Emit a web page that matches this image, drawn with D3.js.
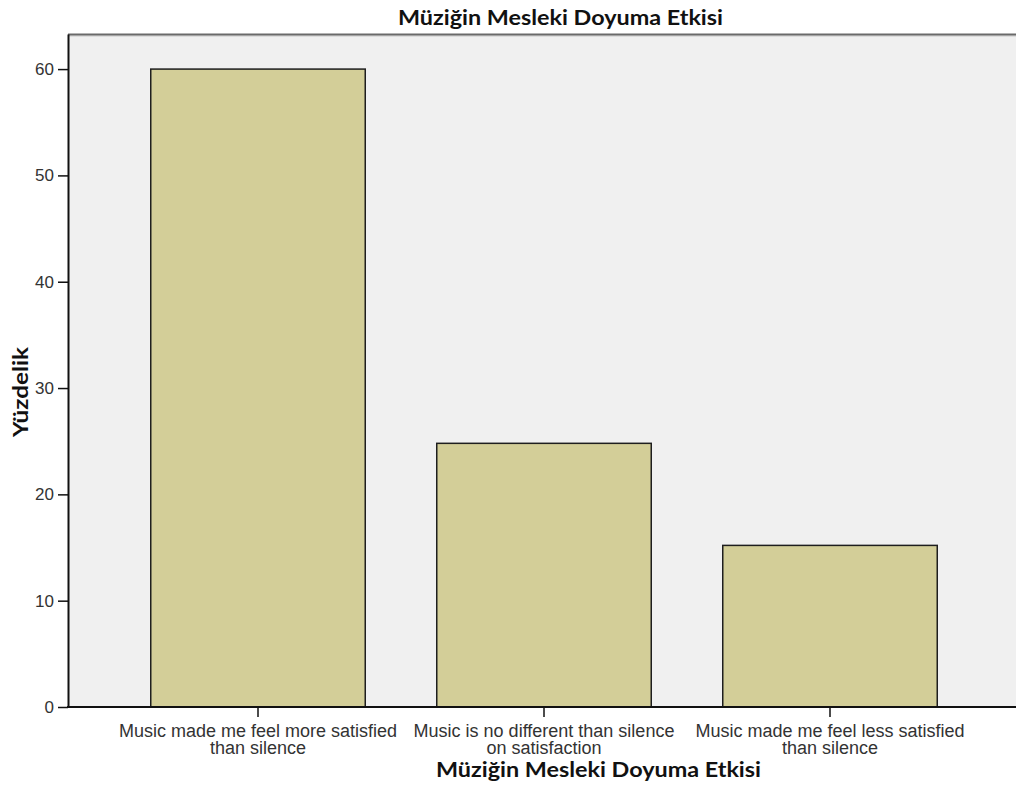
<!DOCTYPE html>
<html>
<head>
<meta charset="utf-8">
<script src="https://cdn.jsdelivr.net/npm/d3@7"></script>
<style>
  body { margin: 0; background: #fff; }
  svg { display: block; }
</style>
</head>
<body>
<script>
// chart data
const categories = [
  "Music made me feel more satisfied|than silence",
  "Music is no different than silence|on satisfaction",
  "Music made me feel less satisfied|than silence"
];
const percents = [60.0, 24.8, 15.2];
const yTicks = [0, 10, 20, 30, 40, 50, 60];
const titleText = "Müziğin Mesleki Doyuma Etkisi";
const yLabel = "Yüzdelik";

window.onload = function() {
    let svg = d3.select("body").append("svg")
        .attr("width", 1016)
        .attr("height", 785);

    let plotLeft = 68, plotRight = 1016, plotTop = 34, plotBottom = 707;

    // plot background
    svg.append("rect")
        .attr("x", plotLeft)
        .attr("y", plotTop)
        .attr("width", plotRight - plotLeft)
        .attr("height", plotBottom - plotTop)
        .attr("fill", "#f0f0f0");

    // top border (grey with a soft shadow line under it)
    svg.append("line")
        .attr("x1", plotLeft).attr("x2", plotRight)
        .attr("y1", plotTop + 2).attr("y2", plotTop + 2)
        .attr("stroke", "#c8c8c8")
        .attr("stroke-width", 1);
    svg.append("line")
        .attr("x1", plotLeft).attr("x2", plotRight)
        .attr("y1", plotTop + 0.5).attr("y2", plotTop + 0.5)
        .attr("stroke", "#6a6a6a")
        .attr("stroke-width", 2);

    let xScale = d3.scaleBand()
        .domain(categories)
        .range([115, 973])
        .paddingInner(0.25)
        .paddingOuter(0.125);

    let yScale = d3.scaleLinear()
        .domain([0, 63.3])
        .range([plotBottom, plotTop]);

    // bars
    svg.selectAll(".bar")
        .data(categories)
        .enter()
        .append("rect")
        .attr("class", "bar")
        .attr("x", d => xScale(d))
        .attr("y", (d, i) => yScale(percents[i]))
        .attr("width", xScale.bandwidth())
        .attr("height", (d, i) => plotBottom - yScale(percents[i]))
        .attr("fill", "#d3ce98")
        .attr("stroke", "#1e1e1e")
        .attr("stroke-width", 1.5);

    // y axis
    let yAxis = d3.axisLeft(yScale)
        .tickValues(yTicks)
        .tickSize(10)
        .tickPadding(4)
        .tickSizeOuter(0);
    let gy = svg.append("g")
        .attr("transform", "translate(" + plotLeft + ",0)")
        .call(yAxis);
    gy.select(".domain").attr("stroke", "#111").attr("stroke-width", 2);
    gy.selectAll(".tick line").attr("stroke", "#111").attr("stroke-width", 1.5);
    gy.selectAll(".tick text")
        .attr("fill", "#333")
        .style("font-family", "'Liberation Sans', Arial, sans-serif")
        .style("font-size", "17px");

    // x axis
    let xAxis = d3.axisBottom(xScale)
        .tickSize(10)
        .tickSizeOuter(0)
        .tickFormat("");
    let gx = svg.append("g")
        .attr("transform", "translate(0," + plotBottom + ")")
        .call(xAxis);
    gx.select(".domain").remove();
    gx.selectAll(".tick line").attr("stroke", "#111").attr("stroke-width", 1.5);
    svg.append("line")
        .attr("x1", plotLeft - 1).attr("x2", plotRight)
        .attr("y1", plotBottom).attr("y2", plotBottom)
        .attr("stroke", "#111")
        .attr("stroke-width", 2);

    // two line category labels
    gx.selectAll(".tick").each(function(d) {
        let lines = d.split("|");
        let t = d3.select(this).append("text")
            .attr("fill", "#333")
            .attr("text-anchor", "middle")
            .style("font-family", "'Liberation Sans', Arial, sans-serif")
            .style("font-size", "18px");
        lines.forEach((ln, i) => {
            t.append("tspan")
                .attr("x", 0)
                .attr("y", 30 + i * 17)
                .text(ln);
        });
    });

    // title
    svg.append("text")
        .attr("x", 398)
        .attr("y", 25)
        .attr("textLength", 325)
        .attr("lengthAdjust", "spacingAndGlyphs")
        .style("font-family", "Lato, 'Open Sans', sans-serif")
        .style("font-weight", "bold")
        .style("font-size", "20px")
        .attr("fill", "#111")
        .text(titleText);

    // x axis title
    svg.append("text")
        .attr("x", 436)
        .attr("y", 777)
        .attr("textLength", 325)
        .attr("lengthAdjust", "spacingAndGlyphs")
        .style("font-family", "Lato, 'Open Sans', sans-serif")
        .style("font-weight", "bold")
        .style("font-size", "20px")
        .attr("fill", "#111")
        .text(titleText);

    // y axis title
    svg.append("text")
        .attr("transform", "translate(28, 392)rotate(-90)")
        .attr("text-anchor", "middle")
        .attr("textLength", 90)
        .attr("lengthAdjust", "spacingAndGlyphs")
        .style("font-family", "Lato, 'Open Sans', sans-serif")
        .style("font-weight", "bold")
        .style("font-size", "20px")
        .attr("fill", "#111")
        .text(yLabel);
};
</script>
</body>
</html>
